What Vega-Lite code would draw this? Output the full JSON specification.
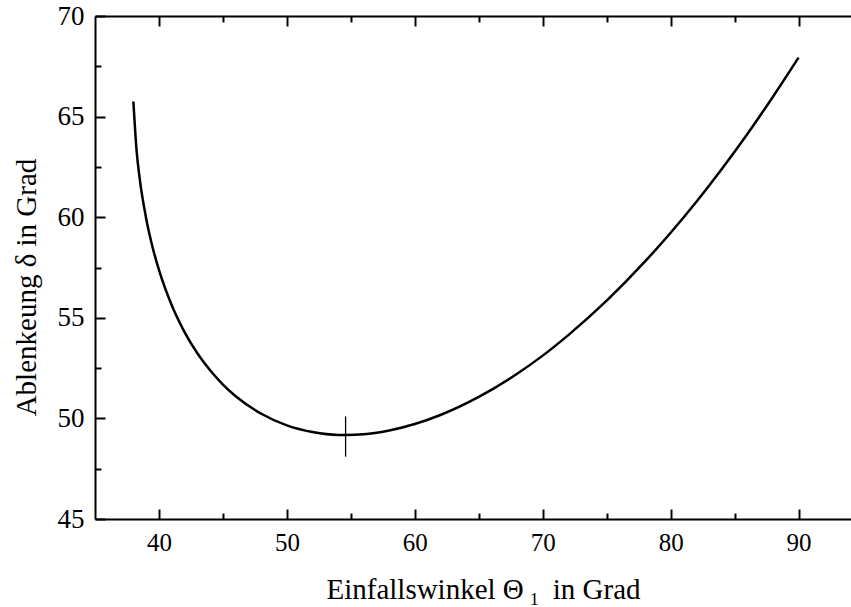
{
  "$schema": "https://vega.github.io/schema/vega-lite/v6.json",
  "autosize": "none",
  "width": 756,
  "height": 503,
  "padding": {"left": 95, "top": 16, "right": 0, "bottom": 88},
  "background": "white",
  "config": {
    "view": {"stroke": null},
    "axis": {
      "domainColor": "black",
      "domainWidth": 2,
      "tickColor": "black",
      "tickWidth": 2,
      "labelColor": "black",
      "labelFont": "Liberation Serif",
      "titleFont": "Liberation Serif",
      "titleColor": "black",
      "titleFontWeight": "normal",
      "grid": false
    }
  },
  "datasets": {
    "curve": [
      {"theta": 38, "delta": 65.75},
      {"theta": 38.25, "delta": 63.32},
      {"theta": 38.5, "delta": 61.89},
      {"theta": 39, "delta": 59.94},
      {"theta": 39.5, "delta": 58.51},
      {"theta": 40, "delta": 57.38},
      {"theta": 41, "delta": 55.62},
      {"theta": 42, "delta": 54.29},
      {"theta": 43, "delta": 53.24},
      {"theta": 44, "delta": 52.39},
      {"theta": 45, "delta": 51.68},
      {"theta": 46, "delta": 51.10},
      {"theta": 48, "delta": 50.23},
      {"theta": 50, "delta": 49.65},
      {"theta": 52, "delta": 49.32},
      {"theta": 54, "delta": 49.18},
      {"theta": 54.59, "delta": 49.18},
      {"theta": 56, "delta": 49.21},
      {"theta": 58, "delta": 49.40},
      {"theta": 60, "delta": 49.72},
      {"theta": 62, "delta": 50.17},
      {"theta": 65, "delta": 51.07},
      {"theta": 68, "delta": 52.22},
      {"theta": 70, "delta": 53.12},
      {"theta": 72, "delta": 54.14},
      {"theta": 75, "delta": 55.85},
      {"theta": 78, "delta": 57.80},
      {"theta": 80, "delta": 59.23},
      {"theta": 82, "delta": 60.76},
      {"theta": 84, "delta": 62.40},
      {"theta": 86, "delta": 64.14},
      {"theta": 88, "delta": 65.99},
      {"theta": 90, "delta": 67.93}
    ],
    "minimum": [
      {"theta": 54.59, "low": 48.1, "high": 50.1}
    ]
  },
  "resolve": {"axis": {"x": "independent", "y": "independent"}},
  "layer": [
    {
      "data": {"name": "curve"},
      "mark": {"type": "line", "color": "black", "strokeWidth": 2.5, "interpolate": "monotone"},
      "encoding": {
        "x": {
          "field": "theta", "type": "quantitative",
          "scale": {"domain": [35, 94.1], "nice": false, "zero": false},
          "axis": {
            "orient": "bottom",
            "values": [40, 50, 60, 70, 80, 90],
            "tickSize": -10,
            "labelPadding": 21,
            "labelFontSize": 25,
            "title": "Einfallswinkel Θ\u2009₁\u2009 in Grad",
            "titleFontSize": 29,
            "titleBaseline": "alphabetic",
            "titleAnchor": "start",
            "titleAlign": "center",
            "titleX": 388,
            "titleY": 79
          }
        },
        "y": {
          "field": "delta", "type": "quantitative",
          "scale": {"domain": [45, 70], "nice": false, "zero": false},
          "axis": {
            "orient": "left",
            "values": [45, 50, 55, 60, 65, 70],
            "tickSize": -10,
            "labelPadding": 21,
            "labelFontSize": 27,
            "title": "Ablenkeung δ in Grad",
            "titleFontSize": 29,
            "titleBaseline": "alphabetic",
            "titleAngle": 270,
            "titleAlign": "center",
            "titleX": -60,
            "titleY": 271
          }
        }
      }
    },
    {
      "data": {"name": "minimum"},
      "mark": {"type": "rule", "color": "black", "strokeWidth": 1.3},
      "encoding": {
        "x": {
          "field": "theta", "type": "quantitative",
          "axis": {
            "orient": "bottom",
            "values": [45, 55, 65, 75, 85],
            "tickSize": -6,
            "labels": false,
            "domain": false,
            "title": null
          }
        },
        "y": {
          "field": "low", "type": "quantitative",
          "axis": {
            "orient": "left",
            "values": [47.5, 52.5, 57.5, 62.5, 67.5],
            "tickSize": -6,
            "labels": false,
            "domain": false,
            "title": null
          }
        },
        "y2": {"field": "high"}
      }
    },
    {
      "data": {"name": "curve"},
      "mark": {"type": "line", "opacity": 0},
      "encoding": {
        "x": {
          "field": "theta", "type": "quantitative",
          "axis": {
            "orient": "top",
            "values": [40, 50, 60, 70, 80, 90],
            "tickSize": -10,
            "labels": false,
            "title": null
          }
        },
        "y": {"field": "delta", "type": "quantitative", "axis": null}
      }
    },
    {
      "data": {"name": "curve"},
      "mark": {"type": "line", "opacity": 0},
      "encoding": {
        "x": {
          "field": "theta", "type": "quantitative",
          "axis": {
            "orient": "top",
            "values": [45, 55, 65, 75, 85],
            "tickSize": -6,
            "labels": false,
            "domain": false,
            "title": null
          }
        },
        "y": {"field": "delta", "type": "quantitative", "axis": null}
      }
    }
  ]
}
